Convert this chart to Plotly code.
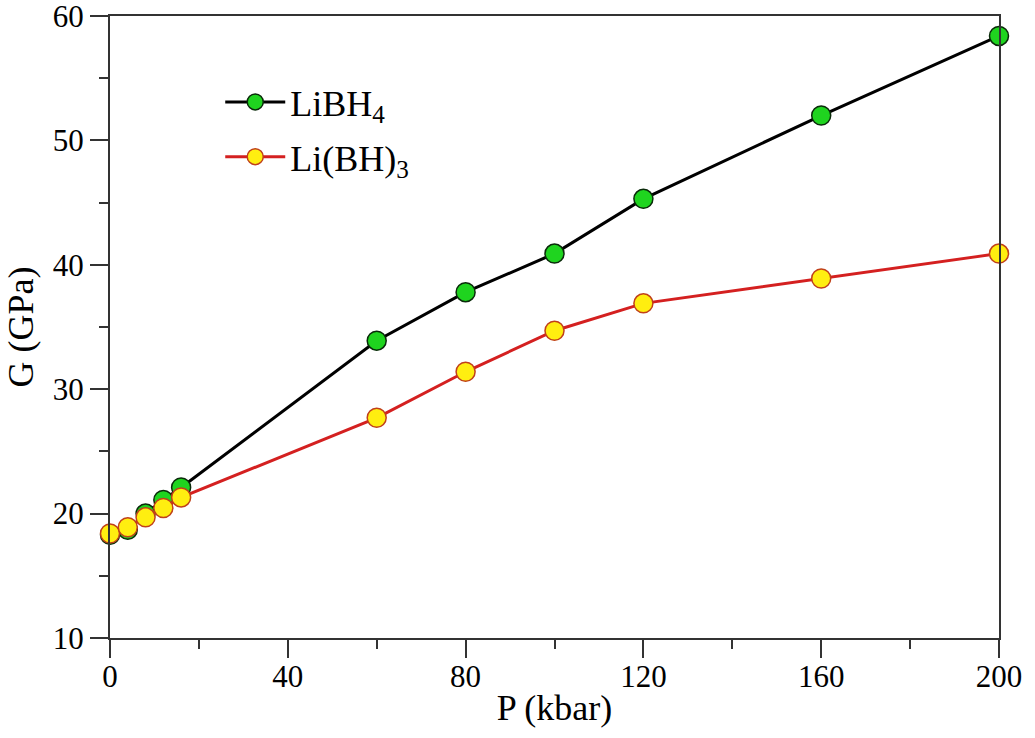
import plotly.graph_objects as go

pressure = [0, 4, 8, 12, 16, 60, 80, 100, 120, 160, 200]
g_libh4 = [18.3, 18.7, 20.0, 21.1, 22.1, 33.9, 37.8, 40.9, 45.3, 52.0, 58.4]
g_libh3 = [18.4, 18.9, 19.7, 20.45, 21.3, 27.7, 31.4, 34.7, 36.9, 38.9, 40.9]

x_ticks = [0, 40, 80, 120, 160, 200]
y_ticks = [10, 20, 30, 40, 50, 60]

FONT = "Liberation Serif"

fig = go.Figure()
fig.add_trace(go.Scatter(
    x=pressure, y=g_libh4, mode="lines+markers", name="LiBH<sub>4</sub>",
    legendgroup="a", cliponaxis=False,
    line=dict(color="black", width=3),
    marker=dict(size=19, color="#1fd41f", line=dict(color="#0a2a0a", width=1.5)),
))
fig.add_trace(go.Scatter(
    x=pressure, y=g_libh3, mode="lines+markers", name="Li(BH)<sub>3</sub>",
    legendgroup="b", cliponaxis=False,
    line=dict(color="#d42020", width=3),
    marker=dict(size=19, color="#ffee10", line=dict(color="#c0401a", width=1.5)),
))

axis_common = dict(
    showline=True, linecolor="#333333", linewidth=2, mirror=True,
    ticks="outside", ticklen=18, tickwidth=2, tickcolor="#333333",
    showgrid=False, zeroline=False, automargin=False,
    ticklabeloverflow="allow",
    tickfont=dict(family=FONT, size=31, color="black"),
)

fig.update_xaxes(
    range=[0, 200], tickvals=x_ticks, ticklabelstandoff=-8,
    minor=dict(ticks="outside", ticklen=9, tickwidth=2, tickcolor="#333333", dtick=20, tick0=0),
    title=dict(text="P (kbar)", font=dict(family=FONT, size=36, color="black"), standoff=2),
    **axis_common,
)
fig.update_yaxes(
    range=[10, 60], tickvals=y_ticks,
    minor=dict(ticks="outside", ticklen=9, tickwidth=2, tickcolor="#333333", dtick=5, tick0=0),
    title=dict(text="G (GPa)", font=dict(family=FONT, size=36, color="black"), standoff=8),
    **axis_common,
)

fig.update_layout(
    width=1035, height=738,
    margin=dict(l=110, r=36, t=16, b=100),
    plot_bgcolor="white", paper_bgcolor="white",
    font=dict(family=FONT, color="black"),
    legend=dict(
        x=0.124, y=0.91, xanchor="left", yanchor="top",
        font=dict(family=FONT, size=36, color="black"),
        bgcolor="rgba(0,0,0,0)", traceorder="grouped", tracegroupgap=5,
        itemwidth=60,
    ),
)

fig.write_html("out.html")
